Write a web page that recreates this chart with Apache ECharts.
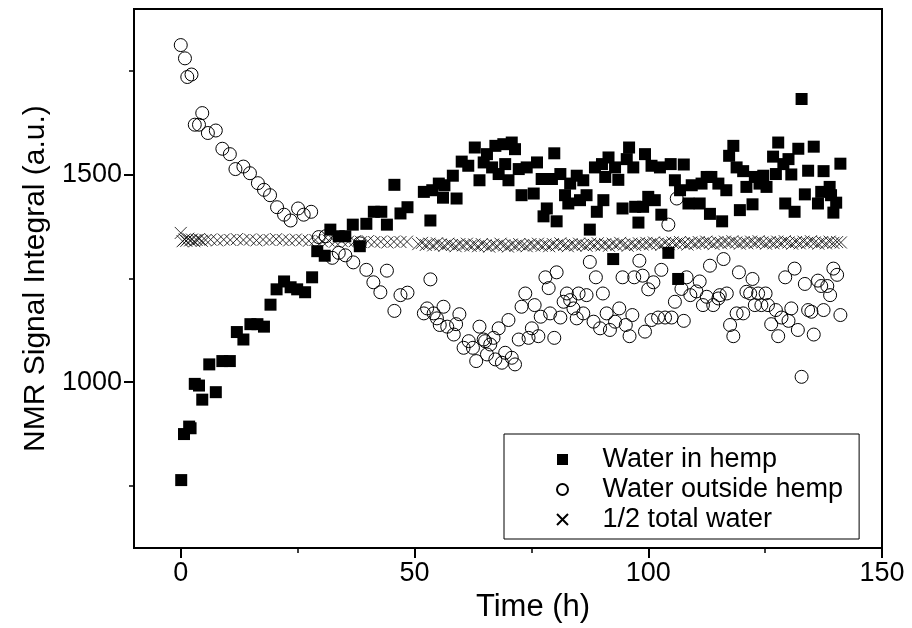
<!DOCTYPE html>
<html>
<head>
<meta charset="utf-8">
<script src="https://cdn.jsdelivr.net/npm/echarts@6/dist/echarts.min.js"></script>
<style>html,body{margin:0;padding:0;background:#fff;}#c{width:912px;height:628px;}</style>
</head>
<body>
<div id="c"></div>
<script>
// ---- data (time in h, NMR signal integral in a.u.) ----
const xTickValues = [0, 50, 100, 150];
const xMinorTicks = [25, 75, 125];
const yTickValues = [1000, 1500];
const yMinorTicks = [750, 1250, 1750];

const waterInHemp = [
  [0.1,764],[0.7,875],[1.8,893],[2.1,889],[3.0,996],[3.9,992],[4.6,958],[6.1,1043],[7.5,976],[8.9,1051],
  [10.5,1051],[12.0,1121],[13.4,1103],[14.9,1140],[16.4,1140],[17.8,1134],[19.2,1187],[20.5,1224],[22.1,1243],[23.5,1229],
  [24.9,1224],[26.6,1217],[28.1,1253],[29.2,1316],[30.8,1305],[32.0,1368],[33.8,1352],[35.2,1352],[36.8,1380],[38.3,1328],
  [39.7,1382],[41.3,1411],[42.9,1411],[44.1,1380],[45.7,1476],[47.0,1407],[48.5,1422],
  [52.0,1459],[53.4,1390],[53.8,1463],[55.2,1479],[56.1,1445],[56.4,1475],[58.2,1498],[59.0,1443],[60.1,1532],
  [61.5,1522],[62.9,1566],[63.9,1487],[64.8,1530],[65.5,1550],[66.6,1518],[67.3,1570],[68.0,1502],[69.0,1574],[69.4,1526],
  [70.1,1487],[70.8,1578],[71.5,1562],[72.3,1514],[72.9,1451],[74.0,1518],[75.5,1455],[76.2,1530],[77.2,1490],[77.6,1400],
  [78.3,1419],[79.4,1490],[79.9,1552],[80.4,1388],[81.2,1502],[82.2,1451],[82.9,1431],[83.3,1479],[84.7,1498],[85.4,1439],
  [86.1,1487],[86.8,1451],[87.5,1368],[88.6,1518],[89.0,1411],[90.1,1526],[90.4,1439],[90.8,1495],[91.5,1542],[92.5,1297],
  [92.9,1518],[93.6,1488],[94.5,1419],[95.4,1538],[95.9,1566],[96.8,1518],[97.2,1423],[97.9,1385],[98.9,1423],[99.3,1550],
  [100.0,1447],[100.7,1522],[101.4,1439],[102.5,1518],[102.8,1404],[104.3,1312],[104.8,1526],[105.7,1487],[106.4,1249],[106.8,1463],
  [107.6,1525],[108.6,1431],[109.3,1475],[111.0,1431],[111.4,1479],[112.5,1495],[113.2,1406],[113.5,1495],[115.0,1479],[115.8,1388],
  [116.7,1463],[117.3,1546],[118.2,1570],[118.9,1518],[119.6,1415],[120.3,1509],[121.0,1471],[122.3,1429],[122.8,1495],[123.8,1479],
  [124.6,1498],[125.3,1471],[126.7,1544],[127.3,1502],[127.8,1578],[128.9,1526],[129.3,1431],[130.0,1538],[130.6,1501],[131.3,1411],
  [132.1,1563],[132.8,1683],[133.5,1453],[134.2,1510],[135.4,1568],[136.3,1431],[137.0,1459],[137.5,1509],[138.8,1471],[139.1,1451],
  [139.6,1409],[140.2,1433],[141.1,1527]
];

const waterOutsideHemp = [
  [0,1813],[0.9,1781],[1.4,1736],[2.3,1742],[3.0,1621],[3.9,1621],[4.6,1649],[5.8,1601],[7.5,1607],[8.9,1563],
  [10.5,1550],[11.7,1514],[13.4,1520],[14.8,1504],[16.5,1480],[17.8,1464],[19.1,1451],[20.6,1422],[22.1,1404],[23.5,1390],
  [25.1,1419],[26.3,1404],[27.9,1411],[29.5,1350],[31.0,1352],[32.4,1300],[33.8,1312],[35.2,1306],[36.9,1289],[38.3,1335],
  [39.7,1271],[41.2,1241],[42.7,1217],[44.1,1269],[45.7,1172],[47.0,1210],[48.5,1216],
  [52.0,1166],[52.7,1178],[53.4,1248],[54.1,1166],[54.8,1154],[55.4,1138],[56.2,1182],[57.0,1134],[58.4,1115],[58.9,1140],
  [59.6,1164],[60.5,1083],[61.6,1099],[62.5,1083],[63.2,1051],[63.9,1134],[64.8,1103],[65.1,1099],[65.5,1067],[66.2,1091],
  [66.9,1107],[67.3,1055],[68.0,1130],[68.7,1047],[69.4,1071],[70.1,1150],[70.8,1059],[71.5,1043],[72.3,1103],[72.9,1182],
  [73.7,1214],[74.4,1107],[75.1,1130],[75.7,1186],[76.5,1111],[77.0,1158],[78.0,1253],[78.7,1227],[79.0,1166],[79.9,1107],
  [80.4,1265],[81.2,1156],[81.9,1194],[82.6,1214],[83.3,1198],[84.0,1178],[84.7,1154],[85.1,1214],[86.1,1166],[86.8,1210],
  [87.5,1290],[88.3,1146],[88.8,1253],[89.7,1130],[90.3,1214],[91.1,1166],[91.8,1126],[92.9,1146],[93.8,1178],[94.5,1253],
  [95.2,1138],[96.0,1111],[96.6,1162],[97.0,1253],[98.1,1293],[98.8,1257],[99.3,1122],[100.0,1224],[100.7,1150],[101.1,1241],
  [102.1,1156],[102.8,1271],[103.6,1156],[104.3,1380],[105.0,1156],[105.7,1194],[106.1,1443],[107.1,1225],[107.6,1148],[108.2,1253],
  [109.0,1210],[110.3,1219],[111.0,1243],[111.7,1186],[112.5,1206],[113.2,1281],[113.9,1186],[115.0,1202],[115.3,1210],[116.1,1297],
  [116.8,1214],[117.5,1138],[118.2,1111],[118.9,1166],[119.4,1265],[120.3,1166],[121.0,1218],[121.8,1214],[122.3,1249],[122.8,1186],
  [123.5,1214],[124.2,1186],[125.1,1214],[125.6,1186],[126.3,1140],[127.3,1174],[127.8,1111],[128.5,1156],[129.3,1253],[130.0,1148],
  [130.6,1178],[131.3,1274],[132.0,1126],[132.8,1013],[133.5,1237],[134.2,1174],[134.9,1170],[135.4,1115],[136.3,1245],[137.0,1232],
  [137.5,1174],[138.3,1232],[138.9,1210],[139.6,1274],[140.4,1259],[141.1,1162]
];

const halfTotalWater = [
  [0,1360],[0.4,1340],[0.8,1344],[1.2,1341],[1.6,1346],[2.0,1342],[2.4,1344],[2.9,1340],[3.4,1343],[3.9,1345],
  [4.5,1341],[5.3,1343],[6.4,1344],[7.8,1342],[9.2,1344],[10.6,1343],[12.0,1345],[13.4,1343],[14.8,1344],[16.2,1342],
  [17.6,1344],[19.0,1343],[20.4,1345],[21.8,1343],[23.2,1342],[24.6,1344],[26.0,1343],[27.4,1341],[28.8,1343],[30.2,1340],
  [31.6,1342],[33.0,1339],[34.4,1341],[35.8,1339],[37.2,1340],[38.6,1338],[40.0,1340],[41.4,1338],[42.8,1339],[44.2,1337],
  [45.6,1339],[47.0,1338],[48.4,1339],
  [50.8,1333],[51.6,1336],[52.4,1331],[53.2,1334],[54.0,1330],[54.8,1335],[55.6,1332],[56.4,1329],[57.2,1334],[58.0,1331],
  [58.8,1328],[59.6,1333],[60.4,1330],[61.2,1334],[62.0,1329],[62.8,1332],[63.6,1328],[64.4,1333],[65.2,1330],[66.0,1327],
  [66.8,1332],[67.6,1329],[68.4,1334],[69.2,1330],[70.0,1327],[70.8,1332],[71.6,1329],[72.4,1333],[73.2,1330],[74.0,1328],
  [74.8,1333],[75.6,1330],[76.4,1334],[77.2,1329],[78.0,1332],[78.8,1328],[79.6,1333],[80.4,1330],[81.2,1335],[82.0,1331],
  [82.8,1328],[83.6,1333],[84.4,1330],[85.2,1334],[86.0,1331],[86.8,1329],[87.6,1334],[88.4,1331],[89.2,1335],[90.0,1330],
  [90.8,1333],[91.6,1329],[92.4,1334],[93.2,1331],[94.0,1336],[94.8,1332],[95.6,1329],[96.4,1334],[97.2,1331],[98.0,1335],
  [98.8,1332],[99.6,1336],[100.4,1333],[101.2,1337],[102.0,1334],[102.8,1331],[103.6,1336],[104.4,1333],[105.2,1337],[106.0,1334],
  [106.8,1338],[107.6,1335],[108.4,1332],[109.2,1337],[110.0,1334],[110.8,1338],[111.6,1335],[112.4,1339],[113.2,1336],[114.0,1333],
  [114.8,1338],[115.6,1335],[116.4,1339],[117.2,1336],[118.0,1340],[118.8,1337],[119.6,1334],[120.4,1338],[121.2,1335],[122.0,1339],
  [122.8,1336],[123.6,1340],[124.4,1337],[125.2,1334],[126.0,1338],[126.8,1335],[127.6,1339],[128.4,1336],[129.2,1340],[130.0,1337],
  [130.8,1334],[131.6,1338],[132.4,1335],[133.2,1339],[134.0,1336],[134.8,1340],[135.6,1337],[136.4,1334],[137.2,1338],[138.0,1335],
  [138.8,1339],[139.6,1336],[140.4,1338],[141.2,1337]
];

const seriesNames = ['Water in hemp', 'Water outside hemp', '1/2 total water'];

// ---- chart ----
const FONT = 'Liberation Sans, Arial, sans-serif';
const CROSS = 'path://M0,0L10,10M10,0L0,10';
const SQUARE = 'path://M0,0H10V10H0Z';
const chart = echarts.init(document.getElementById('c'), null, {renderer: 'canvas'});
const plain = v => String(v);

function minorAxis(base) {
  return Object.assign({
    type: 'value',
    axisLine: {show: false, onZero: false},
    axisLabel: {show: false},
    splitLine: {show: false}
  }, base);
}

chart.setOption({
  animation: false,
  backgroundColor: '#fff',
  grid: {left: 134, right: 30, top: 9, bottom: 71, show: true, borderColor: '#000', borderWidth: 2, backgroundColor: 'transparent'},
  legend: {
    orient: 'vertical',
    left: 504, top: 434,
    padding: [12, 16, 6, 52],
    backgroundColor: '#fff',
    borderColor: '#000', borderWidth: 1,
    itemWidth: 70, itemHeight: 11, itemGap: 3,
    symbolKeepAspect: true,
    textStyle: {fontFamily: FONT, fontSize: 27, color: '#000', lineHeight: 24},
    data: [
      {name: seriesNames[0], icon: SQUARE},
      {name: seriesNames[1], icon: 'circle'},
      {name: seriesNames[2], icon: CROSS}
    ]
  },
  xAxis: [
    {
      type: 'value', min: -10, max: 150, position: 'bottom',
      axisLine: {show: true, onZero: false, lineStyle: {color: '#000', width: 2}},
      axisTick: {show: true, inside: false, length: 10, customValues: xTickValues, lineStyle: {color: '#000', width: 2}},
      axisLabel: {customValues: xTickValues, formatter: plain, fontFamily: FONT, fontSize: 27, color: '#000', margin: 12},
      splitLine: {show: false},
      name: 'Time (h)', nameLocation: 'middle', nameGap: 31,
      nameTextStyle: {fontFamily: FONT, fontSize: 31, color: '#000', padding: [0, 0, 0, 50]}
    },
    minorAxis({min: -10, max: 150, position: 'bottom', axisTick: {show: true, inside: false, length: 5, customValues: xMinorTicks, lineStyle: {color: '#000', width: 1.5}}})
  ],
  yAxis: [
    {
      type: 'value', min: 600, max: 1900, position: 'left',
      axisLine: {show: true, onZero: false, lineStyle: {color: '#000', width: 2}},
      axisTick: {show: true, inside: false, length: 10, customValues: yTickValues, lineStyle: {color: '#000', width: 2}},
      axisLabel: {customValues: yTickValues, formatter: plain, fontFamily: FONT, fontSize: 27, color: '#000', margin: 12},
      splitLine: {show: false},
      name: 'NMR Signal Integral (a.u.)', nameLocation: 'middle', nameGap: 75,
      nameTextStyle: {fontFamily: FONT, fontSize: 30, color: '#000'}
    },
    minorAxis({min: 600, max: 1900, position: 'left', axisTick: {show: true, inside: false, length: 5, customValues: yMinorTicks, lineStyle: {color: '#000', width: 1.5}}})
  ],
  series: [
    {
      name: seriesNames[0], type: 'scatter', data: waterInHemp,
      symbol: 'rect', symbolSize: 12,
      itemStyle: {color: '#000', opacity: 1}
    },
    {
      name: seriesNames[1], type: 'scatter', data: waterOutsideHemp,
      symbol: 'circle', symbolSize: 13,
      itemStyle: {color: 'rgba(255,255,255,0)', borderColor: '#000', borderWidth: 1, opacity: 1}
    },
    {
      name: seriesNames[2], type: 'scatter', data: halfTotalWater,
      symbol: CROSS, symbolSize: 12,
      itemStyle: {color: 'rgba(255,255,255,0)', borderColor: '#000', borderWidth: 0.8, opacity: 1}
    }
  ]
});
</script>
</body>
</html>
